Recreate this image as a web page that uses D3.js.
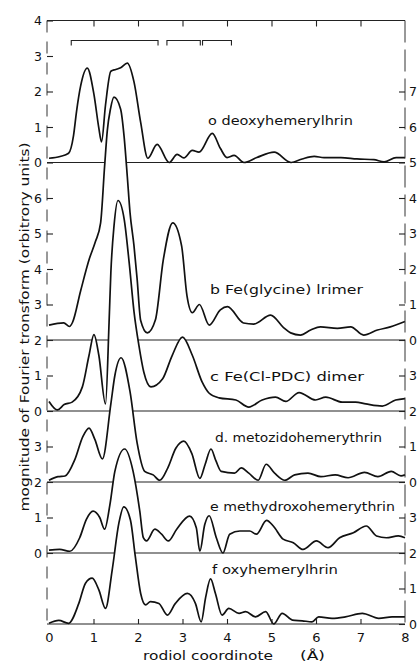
<!DOCTYPE html>
<html>
<head>
<meta charset="utf-8">
<script src="https://cdn.jsdelivr.net/npm/d3@7/dist/d3.min.js"></script>
<style>
  body { margin: 0; background: #fff; }
  svg { display: block; }
  text { font-family: "DejaVu Sans", sans-serif; fill: #111; }
</style>
</head>
<body>
<div id="chart"></div>
<script>

///////////////////////////////////////////////////////////////////////////
/////////////////////////////////// Data //////////////////////////////////
///////////////////////////////////////////////////////////////////////////

// [radial coordinate (Å), magnitude], relative to its own baseline
var seriesA = [[0,0.12],[0.25,0.17],[0.44,0.26],[0.55,0.75],[0.62,1.45],[0.71,2.15],[0.86,2.66],[1.01,1.92],[1.12,0.97],[1.18,0.58],
  [1.27,1.62],[1.39,2.57],[1.5,2.62],[1.61,2.67],[1.76,2.8],[1.91,2.27],[2.06,1.13],[2.22,0.12],[2.43,0.51],[2.7,0],
  [2.88,0.23],[3.03,0.13],[3.22,0.34],[3.37,0.29],[3.67,0.82],[3.85,0.4],[4.0,0.14],[4.16,0.2],[4.38,0],[4.67,0.14],
  [5.06,0.29],[5.44,0],[5.69,0.1],[5.96,0.17],[6.18,0.14],[6.56,0.14],[6.92,0.1],[7.3,0.08],[7.53,0.02],[7.8,0.14],[8,0.14]]

var seriesB = [[0,0.42],[0.33,0.48],[0.46,0.38],[0.53,0.5],[0.71,1.38],[0.91,2.3],[1.04,2.76],[1.16,3.3],[1.25,4.9],[1.31,5.9],
  [1.38,6.5],[1.46,6.84],[1.61,6.5],[1.69,5.7],[1.76,4.6],[1.82,3.6],[1.91,2.65],[1.98,1.72],[2.06,0.55],[2.21,0.2],
  [2.39,0.56],[2.57,2.27],[2.78,3.3],[2.98,2.65],[3.1,1.25],[3.22,0.77],[3.38,1.0],[3.6,0.42],[3.85,0.85],[4.01,0.94],
  [4.37,0.48],[4.6,0.45],[4.98,0.7],[5.27,0.35],[5.43,0.2],[5.65,0.14],[5.88,0.28],[6.1,0.37],[6.48,0.33],[6.78,0.37],
  [7.07,0.14],[7.38,0.28],[7.67,0.37],[8,0.52]]

var seriesC = [[0,0.27],[0.19,0.03],[0.34,0.18],[0.52,0.25],[0.75,0.68],[0.9,1.57],[1.01,2.15],[1.12,1.57],[1.27,0.2],[1.35,2.5],
  [1.39,3.9],[1.46,5.2],[1.55,5.93],[1.69,5.4],[1.8,4.2],[1.91,2.8],[2.02,1.85],[2.13,1.1],[2.29,0.68],[2.55,0.9],
  [2.77,1.57],[3.0,2.08],[3.22,1.57],[3.44,0.82],[3.6,0.5],[3.82,0.37],[4.2,0.31],[4.49,0.11],[4.79,0.31],[5.09,0.39],
  [5.32,0.27],[5.62,0.52],[5.99,0.31],[6.22,0.39],[6.59,0.25],[6.89,0.25],[7.12,0.2],[7.49,0.14],[7.79,0.31],[8,0.35]]

var seriesD = [[0,0.05],[0.2,0.15],[0.36,0.17],[0.58,0.63],[0.76,1.28],[0.9,1.52],[1.03,1.2],[1.2,0.65],[1.39,2.2],[1.48,3.0],
  [1.62,3.5],[1.82,2.55],[1.98,1.1],[2.15,0.3],[2.34,0.2],[2.49,0.05],[2.67,0.4],[2.85,0.95],[3.03,1.15],[3.21,0.8],
  [3.39,0.1],[3.51,0.5],[3.64,0.93],[3.75,0.6],[3.87,0.3],[4.17,0.25],[4.32,0.4],[4.49,0.25],[4.7,0.05],[4.88,0.5],
  [5.07,0.25],[5.3,0.05],[5.52,0.2],[5.82,0.25],[6.11,0.15],[6.43,0.2],[6.72,0.12],[7.09,0.27],[7.39,0.15],[7.69,0.3],
  [7.91,0.17],[8,0.2]]

var seriesE = [[0,0.08],[0.24,0.1],[0.47,0.05],[0.69,0.43],[0.84,0.95],[0.99,1.18],[1.14,1.0],[1.25,0.67],[1.37,1.37],[1.48,2.3],
  [1.7,2.93],[1.89,2.3],[2.04,1.18],[2.12,0.43],[2.19,0.34],[2.38,0.67],[2.53,0.53],[2.68,0.34],[2.87,0.67],[3.16,1.04],
  [3.31,0.71],[3.39,0.05],[3.5,0.8],[3.6,1.05],[3.76,0.43],[3.91,0],[4.06,0.53],[4.29,0.62],[4.51,0.62],[4.66,0.53],
  [4.89,0.92],[5.04,0.76],[5.26,0.39],[5.49,0.29],[5.71,0.1],[6.01,0.34],[6.27,0.15],[6.53,0.43],[6.84,0.57],[7.13,0.76],
  [7.36,0.48],[7.58,0.43],[7.85,0.48],[8,0.43]]

var seriesF = [[0,0.02],[0.22,0.1],[0.44,0.02],[0.67,0.58],[0.82,1.15],[0.97,1.29],[1.12,0.96],[1.27,0.44],[1.42,1.52],[1.57,2.84],
  [1.68,3.3],[1.83,2.93],[1.94,1.9],[2.06,0.86],[2.17,0.54],[2.28,0.63],[2.47,0.58],[2.66,0.25],[2.84,0.58],[3.11,0.86],
  [3.29,0.58],[3.42,0.06],[3.52,0.75],[3.63,1.27],[3.74,0.86],[3.89,0.25],[4.04,0.44],[4.27,0.3],[4.42,0.35],[4.64,0.2],
  [4.87,0.35],[5.05,0],[5.24,0.3],[5.47,0.11],[5.69,0.09],[5.91,0.06],[6.06,0.2],[6.36,0.16],[6.66,0.2],[7.04,0.3],
  [7.41,0.16],[7.71,0.2],[8,0.2]]

var seriesNames = ["a", "b", "c", "d", "e", "f"]
var seriesLabels = ["o deoxyhemerylhrin", "b Fe(glycine) lrimer", "c Fe(Cl-PDC) dimer",
  "d. metozidohemerythrin", "e methydroxohemerythrin", "f oxyhemerylhrin"]
var seriesOffsets = [13, 8, 6, 4, 2, 0]   // vertical stacking of the baselines, in magnitude units
var allSeries = [seriesA, seriesB, seriesC, seriesD, seriesE, seriesF]

// tick labels of each stacked scale (left side: a, c, e ; right side: b, d, f)
var leftTicksA = [0, 1, 2, 3, 4]
var leftTicksC = [0, 1, 2, 3, 4, 5, 6]
var leftTicksE = [0, 1, 2, 3]
var rightTicksB = [0, 1, 2, 3, 4, 5, 6, 7]
var rightTicksD = [0, 1, 2, 3]
var rightTicksF = [0, 1, 2, 3]
var xTicks = [0, 1, 2, 3, 4, 5, 6, 7, 8]

// fitting windows marked above the traces (Å)
var windows = [[0.5, 2.45], [2.65, 3.4], [3.45, 4.1]]

///////////////////////////////////////////////////////////////////////////
///////////////////////////////// Layout //////////////////////////////////
///////////////////////////////////////////////////////////////////////////

var W = 420, H = 663
var plotLeft = 47, plotRight = 405
var yTop = 20.5, yBottom = 624

var xScale = d3.scaleLinear().domain([0, 8]).range([49, 405])
var yScale = d3.scaleLinear().domain([0, 17]).range([yBottom, yTop])

// label placement [x start, baseline y, text width]
var labelBoxes = [[208, 125, 145], [210, 294, 153], [210, 381, 154], [215, 442, 167], [210, 511, 185], [212, 574, 126]]

var svg = d3.select("#chart").append("svg")
  .attr("width", W)
  .attr("height", H)

svg.append("rect").attr("width", W).attr("height", H).attr("fill", "#fff")

///////////////////////////////////////////////////////////////////////////
///////////////////////////////// Traces //////////////////////////////////
///////////////////////////////////////////////////////////////////////////

// top trace first, each lower one paints white under its curve so it
// hides the baselines it rises through (as in the drawing)
allSeries.forEach(function (data, i) {
  var off = seriesOffsets[i]
  var g = svg.append("g").attr("class", "trace-" + seriesNames[i])

  var area = d3.area()
    .x(function (d) { return xScale(d[0]) })
    .y0(yScale(off))
    .y1(function (d) { return yScale(off + d[1]) })
    .curve(d3.curveMonotoneX)

  var line = d3.line()
    .x(function (d) { return xScale(d[0]) })
    .y(function (d) { return yScale(off + d[1]) })
    .curve(d3.curveMonotoneX)

  g.append("path").datum(data).attr("d", area).attr("fill", "#fff")

  g.append("line")
    .attr("x1", plotLeft).attr("x2", plotRight)
    .attr("y1", yScale(off)).attr("y2", yScale(off))
    .attr("stroke", "#222").attr("stroke-width", 1.1)

  g.append("path").datum(data).attr("d", line)
    .attr("fill", "none")
    .attr("stroke", "#111")
    .attr("stroke-width", 1.7)
    .attr("stroke-linejoin", "round")
})

///////////////////////////////////////////////////////////////////////////
////////////////////////////////// Axes ///////////////////////////////////
///////////////////////////////////////////////////////////////////////////

function stackTicks(list) {
  var vals = [], names = {}
  list.forEach(function (s) {
    s[1].forEach(function (t) {
      vals.push(s[0] + t)
      names[s[0] + t] = String(t)
    })
  })
  return { vals: vals, names: names }
}

var left = stackTicks([[13, leftTicksA], [6, leftTicksC], [2, leftTicksE]])
var right = stackTicks([[8, rightTicksB], [4, rightTicksD], [0, rightTicksF]])

function styleAxis(g, size) {
  g.select(".domain").remove()
  g.selectAll(".tick line").attr("stroke", "#222").attr("stroke-width", 1.1)
  g.selectAll(".tick text")
    .attr("font-family", "DejaVu Sans, sans-serif")
    .attr("font-size", size)
    .attr("fill", "#111")
}

// dashed-looking side rules
svg.append("line")
  .attr("x1", plotLeft).attr("x2", plotLeft)
  .attr("y1", yTop).attr("y2", yBottom)
  .attr("stroke", "#333").attr("stroke-width", 1)
  .attr("stroke-dasharray", "12,9")

svg.append("line")
  .attr("x1", plotRight).attr("x2", plotRight)
  .attr("y1", yTop).attr("y2", yBottom)
  .attr("stroke", "#333").attr("stroke-width", 1)
  .attr("stroke-dasharray", "22,7")

svg.append("g")
  .attr("transform", "translate(" + plotLeft + ",0)")
  .call(d3.axisLeft(yScale).tickValues(left.vals).tickSize(-6).tickPadding(5)
    .tickFormat(function (d) { return left.names[d] }))
  .call(styleAxis, 12.5)

svg.append("g")
  .attr("transform", "translate(" + plotRight + ",0)")
  .call(d3.axisRight(yScale).tickValues(right.vals).tickSize(-6).tickPadding(4)
    .tickFormat(function (d) { return right.names[d] }))
  .call(styleAxis, 12.5)

// top frame with ticks
svg.append("line")
  .attr("x1", plotLeft).attr("x2", plotRight)
  .attr("y1", yTop).attr("y2", yTop)
  .attr("stroke", "#222").attr("stroke-width", 1.1)

svg.append("g")
  .attr("transform", "translate(0," + yTop + ")")
  .call(d3.axisTop(xScale).tickValues(xTicks.slice(1, -1)).tickSize(-6).tickFormat(""))
  .call(styleAxis, 10)

// bottom axis on the last baseline
svg.append("g")
  .attr("transform", "translate(0," + yBottom + ")")
  .call(d3.axisBottom(xScale).tickValues(xTicks).tickSize(-5).tickPadding(9)
    .tickFormat(d3.format("d")))
  .call(styleAxis, 13)
  .selectAll(".tick line").filter(function (d) { return d === 0 || d === 8 }).remove()

// windows
var winY = yTop + 20
svg.append("g").selectAll("path")
  .data(windows)
  .join("path")
    .attr("d", function (d) {
      return "M" + xScale(d[0]) + "," + (winY + 5) + "V" + winY + "H" + xScale(d[1]) + "V" + (winY + 5)
    })
    .attr("fill", "none")
    .attr("stroke", "#222")
    .attr("stroke-width", 1.1)

///////////////////////////////////////////////////////////////////////////
////////////////////////////////// Text ///////////////////////////////////
///////////////////////////////////////////////////////////////////////////

svg.append("g").selectAll("text")
  .data(seriesLabels)
  .join("text")
    .attr("x", function (d, i) { return labelBoxes[i][0] })
    .attr("y", function (d, i) { return labelBoxes[i][1] })
    .attr("textLength", function (d, i) { return labelBoxes[i][2] })
    .attr("lengthAdjust", "spacingAndGlyphs")
    .attr("font-size", 11.5)
    .text(function (d) { return d })

svg.append("text")
  .attr("transform", "translate(29,327) rotate(-90)")
  .attr("text-anchor", "middle")
  .attr("font-size", 13)
  .attr("textLength", 369)
  .attr("lengthAdjust", "spacingAndGlyphs")
  .text("mognitude of Fourier tronsform   (orbitrory units)")

svg.append("text")
  .attr("x", 143).attr("y", 660)
  .attr("font-size", 13)
  .attr("textLength", 130)
  .attr("lengthAdjust", "spacingAndGlyphs")
  .text("rodiol coordinote")

svg.append("text")
  .attr("x", 300).attr("y", 660)
  .attr("font-size", 13)
  .attr("textLength", 25)
  .attr("lengthAdjust", "spacingAndGlyphs")
  .text("(Å)")

</script>
</body>
</html>
